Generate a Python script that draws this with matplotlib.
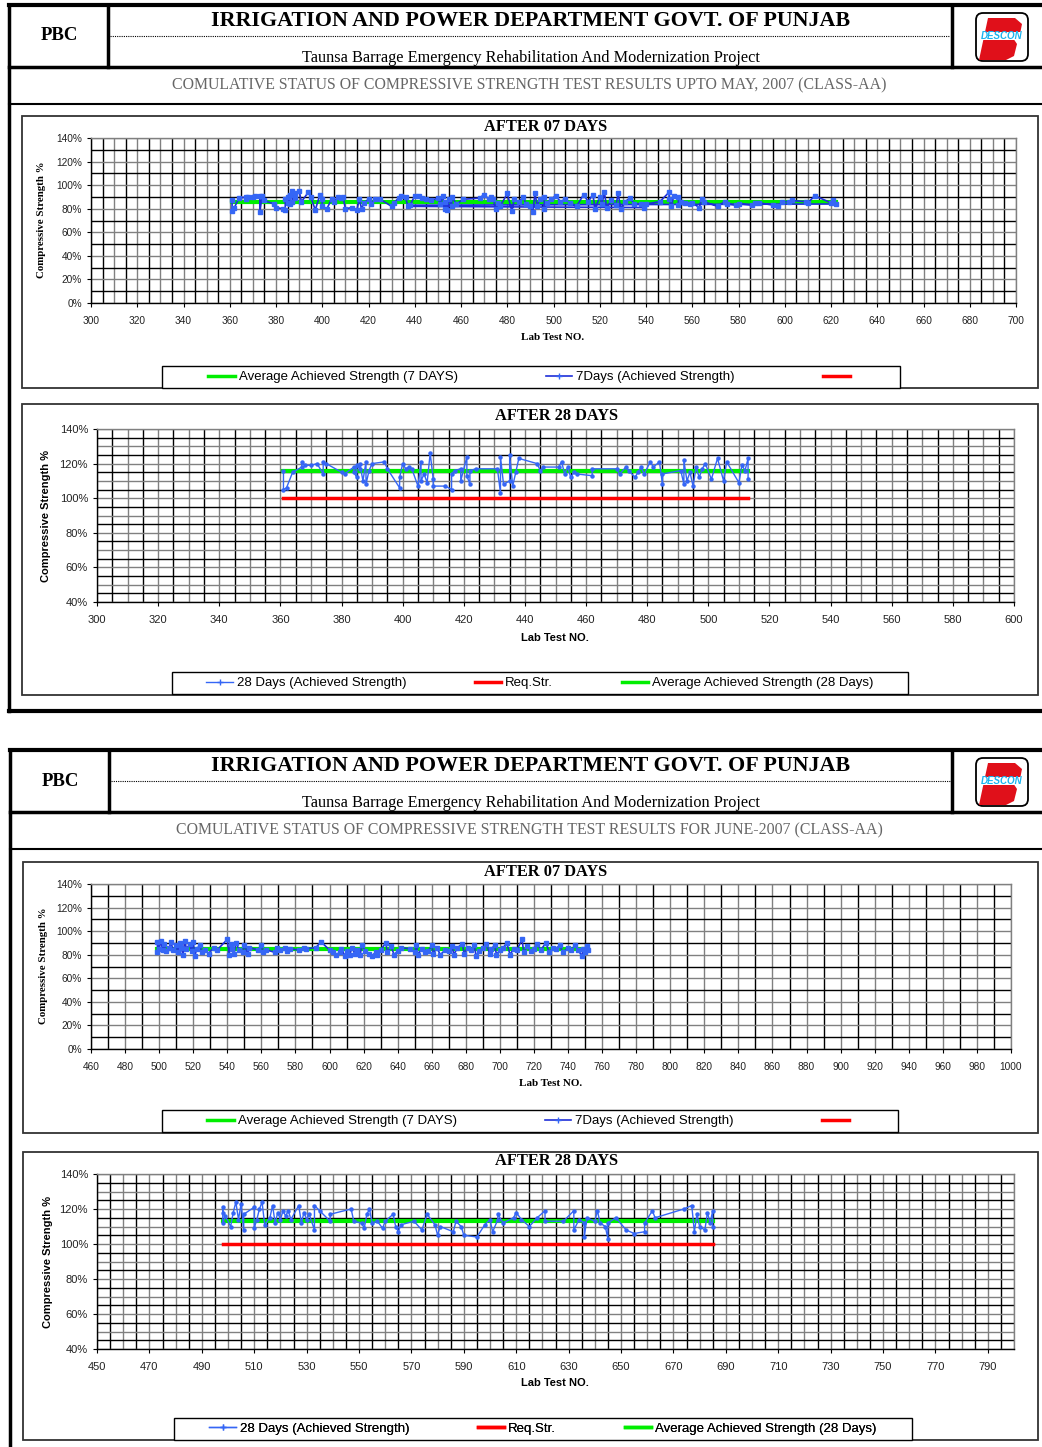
import numpy as np
import matplotlib.pyplot as plt
from matplotlib.patches import Rectangle, FancyBboxPatch, Polygon
from matplotlib.lines import Line2D
from matplotlib.ticker import FuncFormatter

# ---- data ----
# May 2007, 7 days (lab test no., strength %), in plotting order
may7_lab = [361, 361, 362, 364, 367, 367, 368, 370, 371, 373, 373, 374, 375, 379, 380, 383, 384, 384,
            385, 385, 386, 386, 387, 387, 388, 388, 390, 391, 394, 395, 397, 399, 400, 400, 402, 404,
            405, 407, 408, 409, 410, 413, 415, 416, 417, 418, 420, 421, 423, 425, 430, 431, 433, 434,
            436, 437,
            539, 540, 546, 550, 550, 551, 552, 554, 554, 555, 557, 559, 560, 563, 564, 565, 571, 574,
            575, 579, 580, 586, 587, 589, 595, 597, 599, 602, 603, 609, 610, 613, 620, 621, 622,
            438, 440, 442, 443, 445, 447, 450, 451, 452, 453, 453, 454, 455, 456, 456, 458, 461, 468,
            470, 472, 473, 474, 475, 476, 477, 480, 482, 483, 485, 487, 488, 490, 491, 492, 493, 494,
            496, 496, 497, 499, 501, 503, 505, 507, 510, 513, 515, 517, 518, 520, 521, 522, 523, 525,
            527, 528, 529, 531, 533, 535, 538]
may7_str = [87, 78, 81, 89, 90, 88, 90, 90, 91, 91, 77, 91, 87, 84, 81, 80, 79, 88,
            85, 90, 84, 92, 95, 86, 93, 89, 95, 86, 94, 90, 79, 92, 88, 82, 80, 88,
            86, 90, 89, 90, 80, 81, 79, 88, 80, 85, 88, 84, 88, 88, 82, 85, 89, 91,
            90, 82,
            81, 84, 86, 94, 88, 82, 91, 90, 83, 86, 85, 84, 85, 81, 88, 86, 82, 86,
            84, 83, 84, 83, 85, 85, 83, 82, 86, 86, 87, 86, 85, 91, 85, 87, 84,
            83, 91, 91, 89, 88, 87, 89, 84, 91, 80, 86, 79, 88, 82, 90, 84, 88, 89,
            92, 88, 90, 88, 80, 85, 82, 93, 78, 88, 86, 90, 84, 82, 77, 93, 82, 88,
            90, 80, 85, 88, 91, 86, 88, 85, 82, 92, 86, 92, 80, 90, 84, 94, 81, 87,
            83, 93, 80, 86, 89, 84, 84]
may7_avg_lab = [361, 622]
may7_avg = [85.6, 85.6]

# May 2007, 28 days
may28_lab = [361, 361, 362, 364, 367, 367, 368, 370, 372, 374, 374, 375, 380, 381, 384, 384, 385, 385,
             386, 386, 387, 388, 388, 389, 390, 394, 395, 399, 399, 400, 401, 402, 403, 405, 406, 406,
             407, 408, 409, 410, 410, 414, 416, 416, 417, 419, 419, 421, 421, 422, 422, 424, 431, 432,
             432, 433, 435, 435, 436, 437, 438, 444, 445, 446, 451, 452, 453, 454, 455, 456, 457, 462,
             462, 470, 471, 473, 474, 476, 477, 478, 479, 481, 482, 484, 485, 485, 491, 492, 492, 493,
             494, 495, 496, 497, 498, 499, 501, 503, 505, 506, 510, 511, 512, 513, 513]
may28_str = [116, 105, 106, 115, 118, 121, 119, 119, 120, 114, 121, 120, 115, 114, 118, 115, 112, 119,
             117, 120, 110, 121, 108, 116, 120, 121, 117, 106, 112, 120, 117, 118, 117, 107, 121, 110,
             114, 109, 126, 111, 107, 107, 105, 114, 116, 117, 110, 124, 113, 108, 116, 117, 117, 103,
             124, 108, 110, 125, 107, 115, 123, 120, 116, 118, 118, 121, 114, 118, 112, 115, 114, 113,
             117, 117, 114, 118, 116, 112, 115, 118, 114, 121, 118, 121, 108, 114, 116, 108, 122, 110,
             115, 107, 118, 112, 117, 120, 111, 123, 110, 121, 109, 119, 116, 123, 111]
may28_avg_lab = [361, 513]
may28_avg = [116, 116]
may28_req = [100, 100]

# June 2007, 7 days
jun7_lab = [499, 499, 500, 501, 502, 503, 504, 506, 507, 508, 510, 511, 512, 513, 514, 515, 516, 518,
            519, 520, 521, 522, 524, 525, 527, 529, 532, 534, 540, 541, 542, 543, 544, 545, 547, 549,
            550, 552, 553, 558, 560, 561, 563, 568, 569, 571, 574, 575, 577, 582, 585, 586, 592, 595,
            600, 602, 604, 606, 607, 609, 610, 612, 613, 615, 616, 618, 619, 621, 623, 625, 627, 628,
            630, 633, 634, 636, 638, 640, 642, 647, 650, 651, 652, 654, 656, 658, 660, 661, 663, 665,
            668, 670, 672, 673, 675, 678, 679, 681, 683, 685, 686, 688, 690, 692, 694, 695, 697, 698,
            700, 702, 704, 706, 708, 710, 713, 714, 716, 718, 720, 722, 724, 727, 729, 731, 733, 735,
            737, 740, 742, 744, 746, 748, 749, 750, 751, 752]
jun7_str = [82, 91, 85, 92, 84, 89, 83, 86, 91, 84, 88, 82, 90, 86, 80, 92, 85, 89,
            83, 91, 79, 85, 88, 82, 84, 81, 86, 84, 93, 80, 89, 85, 81, 90, 84, 82,
            88, 81, 86, 84, 88, 82, 84, 82, 86, 84, 86, 83, 85, 84, 86, 85, 86, 91,
            84, 82, 80, 82, 85, 79, 83, 80, 86, 81, 84, 80, 88, 83, 81, 79, 82, 80,
            84, 90, 82, 87, 80, 83, 86, 85, 82, 88, 80, 85, 82, 83, 88, 81, 86, 80,
            84, 83, 87, 80, 86, 89, 81, 86, 84, 88, 79, 83, 86, 89, 81, 85, 88, 80,
            84, 86, 90, 80, 85, 84, 93, 82, 87, 83, 85, 89, 84, 90, 82, 86, 85, 88,
            82, 86, 84, 88, 84, 79, 85, 82, 87, 84]
jun7_avg_lab = [499, 752]
jun7_avg = [84.5, 84.5]

# June 2007, 28 days
jun28_lab = [498, 498, 498, 499, 501, 502, 503, 504, 505, 506, 506, 510, 510, 511, 512, 513, 514, 516,
             517, 518, 519, 520, 521, 522, 523, 524, 527, 528, 529, 530, 531, 533, 533, 535, 539, 539,
             547, 548, 551, 552, 553, 554, 555, 557, 559, 560, 563, 564, 565, 566, 571, 574, 576, 579,
             580, 581, 586, 587, 589, 590, 595, 598, 600, 601, 603, 603, 605, 609, 610, 612, 615, 618,
             621, 621, 628, 632, 632, 634, 636, 636, 637, 640, 641, 642, 644, 645, 645, 648, 652, 655,
             659, 659, 662, 663, 674, 677, 678, 679, 680, 682, 683, 684, 685, 685]
jun28_str = [118, 121, 112, 116, 110, 118, 124, 114, 123, 108, 117, 121, 109, 114, 120, 124, 111, 115,
             122, 112, 118, 114, 119, 116, 119, 114, 122, 112, 118, 114, 117, 108, 122, 119, 113, 117,
             120, 113, 112, 109, 117, 120, 112, 113, 109, 113, 117, 110, 107, 111, 113, 108, 117, 111,
             105, 110, 107, 113, 110, 105, 104, 111, 114, 107, 114, 117, 112, 115, 118, 114, 110, 115,
             119, 113, 113, 119, 108, 114, 112, 104, 115, 113, 119, 112, 110, 103, 112, 115, 108, 106,
             107, 112, 119, 115, 120, 122, 107, 117, 110, 108, 118, 112, 119, 110]
jun28_avg_lab = [498, 685]
jun28_avg = [113.1, 113.1]
jun28_req = [100, 100]

# ---- figure in pixel coordinates ----
W, H = 1042, 1447
fig = plt.figure(figsize=(W / 100, H / 100), dpi=100)
bg = fig.add_axes([0, 0, 1, 1])
bg.set_xlim(0, W)
bg.set_ylim(H, 0)
bg.axis('off')

SERIF = 'Liberation Serif'
SANS = 'Liberation Sans'
BLUE = '#3566f5'
DBLUE = '#1f2fd8'
GREEN = '#00ee00'
RED = '#ff0000'


def px_axes(l, t, r, b):
    return fig.add_axes([l / W, 1 - b / H, (r - l) / W, (b - t) / H])


def header(y0, x0, subtitle):
    k = 'black'
    bg.plot([x0, W], [y0, y0], color=k, lw=3)
    bg.plot([x0, x0], [y0, y0 + 706], color=k, lw=2.5)
    bg.plot([x0 + 99, x0 + 99], [y0, y0 + 62], color=k, lw=2.5)
    bg.plot([952, 952], [y0, y0 + 62], color=k, lw=2.5)
    bg.plot([x0, W], [y0 + 62, y0 + 62], color=k, lw=2.5)
    bg.plot([x0, W], [y0 + 99, y0 + 99], color=k, lw=1.5)
    bg.plot([x0 + 101, 950], [y0 + 31, y0 + 31], color=k, lw=0.8, ls=(0, (1, 1)))
    bg.text(x0 + 50, y0 + 31, 'PBC', family=SERIF, weight='bold', fontsize=13.5,
            ha='center', va='center')
    bg.text(531, y0 + 16, 'IRRIGATION AND POWER DEPARTMENT GOVT. OF PUNJAB', family=SERIF,
            weight='bold', fontsize=15.8, ha='center', va='center')
    bg.text(531, y0 + 53, 'Taunsa Barrage Emergency Rehabilitation And Modernization Project',
            family=SERIF, fontsize=11.7, ha='center', va='center')
    bg.text(529, y0 + 80, subtitle, family=SERIF, fontsize=11.4, color='#666666',
            ha='center', va='center')
    # DESCON logo
    bg.add_patch(FancyBboxPatch((976, y0 + 8), 52, 48, boxstyle='round,pad=0,rounding_size=7',
                                fc='white', ec='black', lw=1.3))
    bg.add_patch(Polygon([(988, y0 + 13), (1015, y0 + 13), (1022, y0 + 19), (1020, y0 + 29),
                          (1013, y0 + 33), (1017, y0 + 39), (1014, y0 + 51), (1006, y0 + 55),
                          (979, y0 + 55)], closed=True, fc='#e0101a', ec='none'))
    bg.add_patch(Rectangle((979, y0 + 27), 44, 8, fc='white', ec='none'))
    bg.text(1002, y0 + 31, 'DESCON', family=SANS, weight='bold', style='italic', fontsize=7,
            color='#19b4f0', ha='center', va='center')


def frame(l, t, r, b):
    bg.add_patch(Rectangle((l, t), r - l, b - t, fc='none', ec='#333333', lw=1.3))


def style_axes(ax, xlim, xmaj, xgrid, ylim, ymaj, ygrid, tsize):
    ax.set_xlim(*xlim)
    ax.set_ylim(*ylim)
    xs = np.arange(xlim[0], xlim[1] + 0.01, xgrid)
    ys = np.arange(ylim[0], ylim[1] + 0.01, ygrid)
    xc = ['black' if i % 2 else '#808080' for i in range(len(xs))]
    yc = ['black' if i % 2 else '#808080' for i in range(len(ys))]
    ax.vlines(xs, ylim[0], ylim[1], colors=xc, lw=1.0, zorder=1)
    ax.hlines(ys, xlim[0], xlim[1], colors=yc, lw=1.0, zorder=1)
    ax.set_xticks(np.arange(xlim[0], xlim[1] + 0.01, xmaj))
    ax.set_yticks(np.arange(ylim[0], ylim[1] + 0.01, ymaj))
    ax.yaxis.set_major_formatter(FuncFormatter(lambda v, p: f'{v:.0f}%'))
    ax.tick_params(labelsize=tsize, length=3, width=0.8, colors='black')
    ax.tick_params(axis='x', pad=6.5)
    ax.tick_params(axis='y', pad=3.5)
    for s in ['top', 'right']:
        ax.spines[s].set_color('#808080')
    for s in ax.spines.values():
        s.set_linewidth(1.0)


def fix_ticks(ax):
    for lab in ax.get_xticklabels() + ax.get_yticklabels():
        lab.set_family(SANS)
        lab.set_color('#222222')


def legend_box(l, t, r, b, handles, labels, gap):
    bg.add_patch(Rectangle((l, t), r - l, b - t, fc='white', ec='black', lw=1.0))
    leg = bg.legend(handles, labels, loc='center',
                    bbox_to_anchor=((l + r) / 2 / W, 1 - (t + b) / 2 / H),
                    bbox_transform=fig.transFigure, ncol=3, frameon=False, handlelength=2.0,
                    handletextpad=0.3, columnspacing=gap, borderpad=0.1,
                    prop={'family': SANS, 'size': 9.5})
    bg.add_artist(leg)


h_avg7 = Line2D([], [], color=GREEN, lw=2.5)
h_7 = Line2D([], [], color=DBLUE, lw=1.2, marker='+', ms=4, mec=BLUE)
h_red = Line2D([], [], color=RED, lw=2.5)
h_28 = Line2D([], [], color=BLUE, lw=1.0, marker='+', ms=4)

# ---------------- page 1 ----------------
header(5, 9, 'COMULATIVE STATUS OF COMPRESSIVE STRENGTH TEST RESULTS UPTO MAY, 2007 (CLASS-AA)')

frame(22, 116, 1038, 388)
ax1 = px_axes(91, 138, 1016, 303)
style_axes(ax1, (300, 700), 20, 5, (0, 140), 20, 10, 7.3)
ax1.plot(may7_avg_lab, may7_avg, color=GREEN, lw=3, zorder=3)
ax1.plot(may7_lab, may7_str, color=DBLUE, lw=1.2, marker='s', ms=2.8, mfc=BLUE, mec=BLUE, zorder=4)
fix_ticks(ax1)
bg.text(546, 127, 'AFTER 07 DAYS', family=SERIF, weight='bold', fontsize=11.8, ha='center', va='center')
bg.text(553, 338, 'Lab Test NO.', family=SERIF, weight='bold', fontsize=8, ha='center', va='center')
bg.text(42, 220, 'Compressive Strength %', family=SERIF, weight='bold', fontsize=7.8,
        rotation=90, ha='center', va='center')
legend_box(162, 366, 900, 388, [h_avg7, h_7, h_red],
           ['Average Achieved Strength (7 DAYS)', '7Days (Achieved Strength)', ''], 6.7)

frame(22, 404, 1038, 695)
ax2 = px_axes(97, 429, 1014, 602)
style_axes(ax2, (300, 600), 20, 5, (40, 140), 20, 5, 8)
ax2.plot(may28_avg_lab, may28_req, color=RED, lw=2.5, zorder=3)
ax2.plot(may28_avg_lab, may28_avg, color=GREEN, lw=3, zorder=3)
ax2.plot(may28_lab, may28_str, color=BLUE, lw=1.0, marker='o', ms=2.2, zorder=4)
fix_ticks(ax2)
bg.text(557, 416, 'AFTER 28 DAYS', family=SERIF, weight='bold', fontsize=11.8, ha='center', va='center')
bg.text(555, 638, 'Lab Test NO.', family=SANS, weight='bold', fontsize=8, ha='center', va='center')
bg.text(46, 516, 'Compressive Strength %', family=SANS, weight='bold', fontsize=8,
        rotation=90, ha='center', va='center')
legend_box(172, 672, 908, 694, [h_28, h_red, h_avg7],
           ['28 Days (Achieved Strength)', 'Req.Str.', 'Average Achieved Strength (28 Days)'], 5.2)

bg.plot([9, W], [711, 711], color='black', lw=3)

# ---------------- page 2 ----------------
header(750, 10, 'COMULATIVE STATUS OF COMPRESSIVE STRENGTH TEST RESULTS FOR JUNE-2007 (CLASS-AA)')

frame(23, 862, 1038, 1133)
ax3 = px_axes(91, 884, 1011, 1049)
style_axes(ax3, (460, 1000), 20, 10, (0, 140), 20, 10, 7.3)
ax3.plot(jun7_avg_lab, jun7_avg, color=GREEN, lw=3, zorder=3)
ax3.plot(jun7_lab, jun7_str, color=DBLUE, lw=1.2, marker='s', ms=2.8, mfc=BLUE, mec=BLUE, zorder=4)
fix_ticks(ax3)
bg.text(546, 872, 'AFTER 07 DAYS', family=SERIF, weight='bold', fontsize=11.8, ha='center', va='center')
bg.text(551, 1083, 'Lab Test NO.', family=SERIF, weight='bold', fontsize=8, ha='center', va='center')
bg.text(43, 966, 'Compressive Strength %', family=SERIF, weight='bold', fontsize=7.8,
        rotation=90, ha='center', va='center')
legend_box(162, 1110, 898, 1132, [h_avg7, h_7, h_red],
           ['Average Achieved Strength (7 DAYS)', '7Days (Achieved Strength)', ''], 6.7)

frame(23, 1152, 1038, 1440)
ax4 = px_axes(97, 1174, 1014, 1349)
style_axes(ax4, (450, 800), 20, 5, (40, 140), 20, 5, 8)
ax4.set_xticks(np.arange(450, 791, 20))
ax4.plot(jun28_avg_lab, jun28_req, color=RED, lw=2.5, zorder=3)
ax4.plot(jun28_avg_lab, jun28_avg, color=GREEN, lw=3, zorder=3)
ax4.plot(jun28_lab, jun28_str, color=BLUE, lw=1.0, marker='o', ms=2.2, zorder=4)
fix_ticks(ax4)
bg.text(557, 1161, 'AFTER 28 DAYS', family=SERIF, weight='bold', fontsize=11.8, ha='center', va='center')
bg.text(555, 1383, 'Lab Test NO.', family=SANS, weight='bold', fontsize=8, ha='center', va='center')
bg.text(48, 1262, 'Compressive Strength %', family=SANS, weight='bold', fontsize=8,
        rotation=90, ha='center', va='center')
legend_box(174, 1418, 912, 1440, [h_28, h_red, h_avg7],
           ['28 Days (Achieved Strength)', 'Req.Str.', 'Average Achieved Strength (28 Days)'], 5.2)

fig.savefig('out.png', dpi=100)
